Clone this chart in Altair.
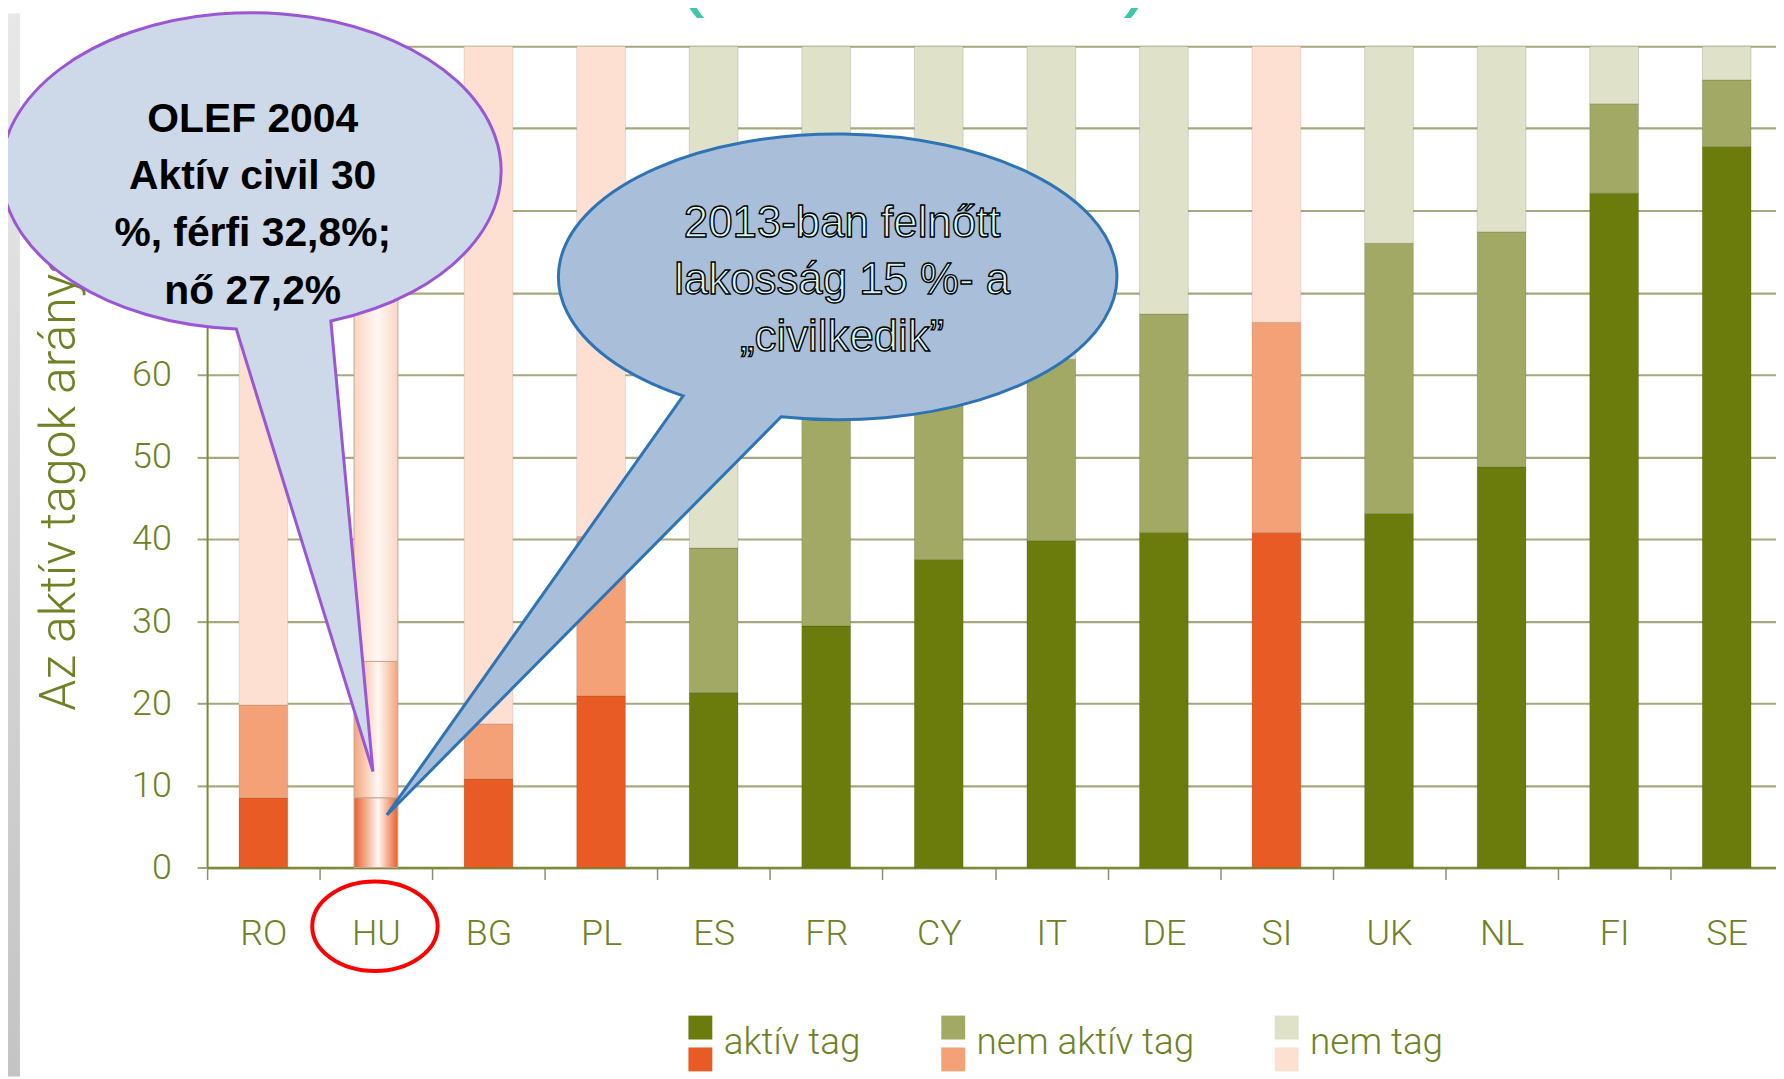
import altair as alt
import pandas as pd

# ---------------- data ----------------
countries = ["RO", "HU", "BG", "PL", "ES", "FR", "CY", "IT", "DE", "SI", "UK", "NL", "FI", "SE"]
active = [8.5, 8.5, 10.8, 20.9, 21.3, 29.4, 37.5, 39.8, 40.8, 40.8, 43.1, 48.8, 82.1, 87.8]
inactive = [11.3, 16.6, 6.7, 19.4, 17.6, 30.6, 25.5, 22.1, 26.6, 25.6, 32.9, 28.6, 10.9, 8.1]
nonmember = [80.2, 74.9, 82.5, 59.7, 61.1, 40.0, 37.0, 38.1, 32.6, 33.6, 24.0, 22.6, 7.0, 4.1]
tone = ["orange", "orange", "orange", "orange", "green", "green", "green", "green",
        "green", "orange", "green", "green", "green", "green"]
categories = ["aktív tag", "nem aktív tag", "nem tag"]
y_ticks = [0, 10, 20, 30, 40, 50, 60, 70, 80, 90, 100]

y_title = "Az aktív tagok aránya (%)"
header_text = "(2004–2013)"
bubble1_lines = ["OLEF 2004", "Aktív civil 30", "%, férfi 32,8%;", "nő 27,2%"]
bubble2_lines = ["2013-ban  felnőtt", "lakosság 15 %- a", "„civilkedik”"]
highlight_country = "HU"
note_names = ["olef", "pop"]
note_targets = [11.7, 6.4]

# ---------------- styles ----------------
green_colours = ["#6b7c0c", "#a1a964", "#dfe2c8"]
orange_colours = ["#e85b24", "#f4a177", "#fde0d2"]
hu_edges = ["#e8602a", "#f3a57c", "#fbd6c4"]
OLIVE = "#6f8124"
FONT = "Roboto"

rows = []
for i, c in enumerate(countries):
    cum = 0.0
    for k, (cat, v) in enumerate(zip(categories, [active[i], inactive[i], nonmember[i]])):
        rows.append(dict(country=c, category=cat, value=v, start=cum, end=cum + v,
                         tone=tone[i], ord=k))
        cum += v
df = pd.DataFrame(rows)

notes = pd.DataFrame({"country": [highlight_country] * 2, "value": note_targets, "name": note_names})
dummy = pd.DataFrame({"k": [0]})

x_scale = alt.Scale(domain=countries, range=[0, 1583], paddingInner=0, paddingOuter=0)
y_scale = alt.Scale(domain=[0, 100], nice=False)

x_axis = alt.Axis(title=None, labelAngle=0, labelFont=FONT, labelFontSize=36, labelFontWeight=300,
                  labelColor=OLIVE, labelPadding=37, tickBand="extent", tickSize=12, tickWidth=1.5,
                  tickColor="#8c9070", domainColor="#7c8a35", domainWidth=2.5, grid=False, zindex=0)
y_axis = alt.Axis(values=y_ticks, title=y_title, titleFont=FONT, titleFontSize=50, titleFontWeight=300,
                  titleColor=OLIVE, titleAngle=270, titleAlign="left", titleBaseline="alphabetic",
                  titleX=-133, titleY=667,
                  labelFont=FONT, labelFontSize=36, labelFontWeight=300, labelColor=OLIVE, labelPadding=26,
                  tickSize=10, tickWidth=2, tickColor="#a0a37a", domainColor="#7c8a35", domainWidth=2,
                  gridColor="#a6a97e", gridWidth=2.2, zindex=0)


def X():
    return alt.X("country:N", sort=countries, scale=x_scale, axis=x_axis)


def Y(f):
    return alt.Y(f"{f}:Q", scale=y_scale, axis=y_axis)


UP = "M-1,-2.333L1,-2.333L1,-0.333L-1,-0.333Z"
DOWN = "M-1,0.333L1,0.333L1,2.333L-1,2.333Z"


def legend(shape, label_opacity):
    return alt.Legend(title=None, orient="none", legendX=477, legendY=983, direction="horizontal",
                      symbolType=shape, symbolSize=576, symbolStrokeWidth=0,
                      labelFont=FONT, labelFontSize=37, labelFontWeight=300, labelColor=OLIVE,
                      labelOpacity=label_opacity, labelOffset=5, labelLimit=600,
                      columnPadding=74, padding=0)


strip = alt.Chart(dummy).mark_rect(
    fill=alt.Gradient(gradient="linear", x1=0, x2=0, y1=0, y2=1,
                      stops=[alt.GradientStop(color="#e8e8e8", offset=0),
                             alt.GradientStop(color="#c4c4c4", offset=1)])
).encode(x=alt.value(-200), x2=alt.value(-188), y=alt.value(-33), y2=alt.value(1035))

green = alt.Chart(df).transform_filter(alt.datum.tone == "green").mark_bar(
    width=49, stroke="rgba(0,0,0,0.13)", strokeWidth=1
).encode(x=X(), y=Y("start"), y2="end:Q",
         color=alt.Color("category:N", scale=alt.Scale(domain=categories, range=green_colours),
                         legend=legend(UP, 1)))

orange = alt.Chart(df).transform_filter(
    (alt.datum.tone == "orange") & (alt.datum.country != highlight_country)
).mark_bar(width=49, stroke="rgba(0,0,0,0.10)", strokeWidth=1).encode(
    x=X(), y=Y("start"), y2="end:Q",
    color=alt.Color("category:N", scale=alt.Scale(domain=categories, range=orange_colours),
                    legend=legend(DOWN, 0)))

hu_layers = []
for cat, edge in zip(categories, hu_edges):
    hu_layers.append(
        alt.Chart(df).transform_filter(
            (alt.datum.country == highlight_country) & (alt.datum.category == cat)
        ).mark_bar(
            width=44,
            fill=alt.Gradient(gradient="linear", x1=0, x2=1, y1=0, y2=0,
                              stops=[alt.GradientStop(color=edge, offset=0),
                                     alt.GradientStop(color="#fff8f4", offset=0.55),
                                     alt.GradientStop(color=edge, offset=1)]),
            stroke="#c7a48e", strokeWidth=1
        ).encode(x=X(), y=Y("start"), y2="end:Q")
    )

ELLIPSE = "M-63,0A63,45 0 1,0 63,0A63,45 0 1,0 -63,0Z"
ring = alt.Chart(notes).transform_filter(alt.datum.name == "olef").mark_point(
    shape=ELLIPSE, size=4, filled=False, stroke="#ff0000", strokeWidth=4, opacity=1, xOffset=-1
).encode(x=X(), y=alt.value(884))

PATH1 = "M-137.3,-444.5A251,159 0 1,1 -42.3,-452.5L0,0Z"
bubble1 = alt.Chart(notes).transform_filter(alt.datum.name == "olef").mark_point(
    shape=PATH1, size=4, filled=True, fill="#cdd9e8", stroke="#9b57d3", strokeWidth=3,
    opacity=1, fillOpacity=1, strokeOpacity=1, xOffset=-3
).encode(x=X(), y=Y("value"))

text1 = alt.Chart(notes).transform_filter(alt.datum.name == "olef").mark_text(
    text=bubble1_lines, font="Liberation Sans", fontSize=41, fontWeight="bold", color="#000000",
    align="center", baseline="alphabetic", lineHeight=57.5, dx=-123.8, dy=-642.5
).encode(x=X(), y=Y("value"))

PATH2 = "M297.6,-421A280.5,143.5 0 1,1 396,-400L0,0Z"
bubble2 = alt.Chart(notes).transform_filter(alt.datum.name == "pop").mark_point(
    shape=PATH2, size=4, filled=True, fill="#a9bed8", stroke="#2e74b5", strokeWidth=3,
    opacity=1, fillOpacity=1, strokeOpacity=1, xOffset=11
).encode(x=X(), y=Y("value"))

text2 = alt.Chart(notes).transform_filter(alt.datum.name == "pop").mark_text(
    text=bubble2_lines, font="Liberation Sans", fontSize=44, color="#d6f6f6", stroke="#000000",
    strokeWidth=1.4, align="center", baseline="alphabetic", lineHeight=57.5, dx=468.3, dy=-581
).encode(x=X(), y=Y("value"))

header = alt.Chart(dummy).mark_text(
    text=header_text, font="Liberation Sans", fontSize=84, color="#3ec8a8",
    align="center", baseline="alphabetic"
).encode(x=alt.value(710), y=alt.value(-45))

chart = alt.layer(
    strip, green, orange, *hu_layers, ring, bubble1, text1, bubble2, text2, header
).resolve_scale(color="independent").properties(
    width=1576, height=825,
    padding={"left": 200, "top": 36, "right": 0, "bottom": 210},
    autosize=alt.AutoSizeParams(type="none"),
    background="#ffffff"
).configure_view(stroke=None)

chart.save("out.html", embed_options={"renderer": "svg", "actions": False})
